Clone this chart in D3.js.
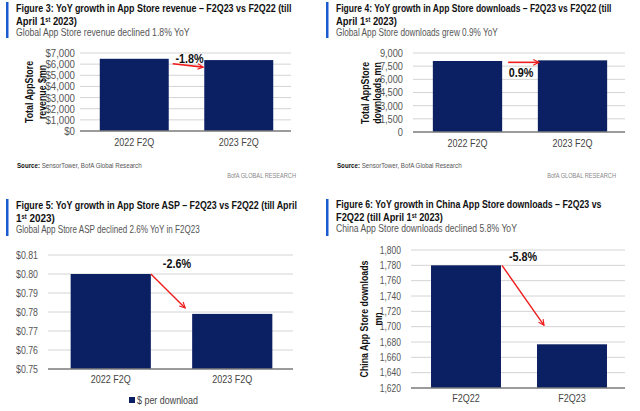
<!DOCTYPE html>
<html><head><meta charset="utf-8">
<script src="https://cdn.jsdelivr.net/npm/d3@7/dist/d3.min.js"></script>
<style>
body{margin:0;background:#fff;}
svg{display:block;}
text{font-family:"Liberation Sans",Arial,sans-serif;}
</style></head>
<body>
<script>
// ---- data ----
const revCategories = ["2022 F2Q", "2023 F2Q"];
const revValues = [6480, 6364];
const revTicks = [0, 1000, 2000, 3000, 4000, 5000, 6000, 7000];

const dlCategories = ["2022 F2Q", "2023 F2Q"];
const dlValues = [8090, 8163];
const dlTicks = [0, 1500, 3000, 4500, 6000, 7500, 9000];

const aspCategories = ["2022 F2Q", "2023 F2Q"];
const aspValues = [0.800, 0.779];
const aspTicks = [0.75, 0.76, 0.77, 0.78, 0.79, 0.80, 0.81];

const cnCategories = ["F2Q22", "F2Q23"];
const cnValues = [1780, 1677];
const cnTicks = [1620, 1640, 1660, 1680, 1700, 1720, 1740, 1760, 1780, 1800];

const changeLabels = ["-1.8%", "0.9%", "-2.6%", "-5.8%"];
const legendLabel = "$ per download";

const NAVY = "#0b1f63", ACCENT = "#1a5cd0", RED = "#ee1c1c";

const svg = d3.select("body").append("svg").attr("width", 640).attr("height", 411);
const defs = svg.append("defs");
defs.append("marker").attr("id", "ah").attr("viewBox", "0 0 10 10")
  .attr("refX", 9).attr("refY", 5).attr("markerWidth", 7).attr("markerHeight", 7)
  .attr("orient", "auto").attr("markerUnits", "userSpaceOnUse")
  .append("path").attr("d", "M1,1 L9,5 L1,9").attr("fill", "none")
  .attr("stroke", RED).attr("stroke-width", 1.6);

// horizontally squeeze a text element by factor f (or to a target width) using a transform
function squeeze(sel, f, target) {
  sel.each(function () {
    const el = d3.select(this);
    const k = target ? target / this.getComputedTextLength() : f;
    const x0 = +(el.attr("x") || 0);
    const tr = el.attr("transform") || "";
    el.attr("x", x0 / k).attr("transform", (tr + ` scale(${k},1)`).trim());
  });
}

const panels = [
  {ox: 0, accent: [2, 38], lines: [[["Figure 3: YoY growth in App Store revenue – F2Q23 vs F2Q22 (till", 0]], [["April 1", 0], ["st", 1], [" 2023)", 0]]],
   tl: [276, 61], ty: 12, sub: "Global App Store revenue declined 1.8% YoY", subW: 174,
   cats: revCategories, vals: revValues, ticks: revTicks, fmt: d => "$" + d3.format(",")(d),
   xr: [82, 291], yr: [131, 53], tickGap: 5, tickFs: 11, tickC: 0.88, catY: 147,
   ytitle: ["Total AppStore", "revenue $mn"], ytx: [33, 46], yty: 92,
   source: true, srcY: 168, ann: 0},
  {ox: 320, accent: [2, 38], lines: [[["Figure 4: YoY growth in App Store downloads – F2Q23 vs F2Q22 (till", 0]], [["April 1", 0], ["st", 1], [" 2023)", 0]]],
   tl: [276, 61], ty: 12, sub: "Global App Store downloads grew 0.9% YoY", subW: 162,
   cats: dlCategories, vals: dlValues, ticks: dlTicks, fmt: d3.format(","),
   xr: [415, 625], yr: [132, 53], tickGap: 10, tickFs: 10.5, tickC: 0.88, catY: 148,
   ytitle: ["Total AppStore", "downloads mn"], ytx: [369, 381], yty: 93,
   source: true, srcY: 168, ann: 1},
  {ox: 0, accent: [199, 236], lines: [[["Figure 5: YoY growth in App Store ASP – F2Q23 vs F2Q22 (till April", 0]], [["1", 0], ["st", 1], [" 2023)", 0]]],
   tl: [281, 39], ty: 209, sub: "Global App Store ASP declined 2.6% YoY in F2Q23", subW: 184,
   cats: aspCategories, vals: aspValues, ticks: aspTicks, fmt: d => "$" + d3.format(".2f")(d),
   xr: [50, 293], yr: [369, 255], tickGap: 10, tickFs: 10, tickC: 0.88, catY: 384, ytitle: null,
   source: false, ann: 2, legend: true},
  {ox: 320, accent: [199, 236], lines: [[["Figure 6: YoY growth in China App Store downloads – F2Q23 vs", 0]], [["F2Q22 (till April 1", 0], ["st", 1], [" 2023)", 0]]],
   tl: [266, 107], ty: 208, sub: "China App Store downloads declined 5.8% YoY", subW: 181,
   cats: cnCategories, vals: cnValues, ticks: cnTicks, fmt: d3.format(","),
   xr: [413, 625], yr: [388, 250], tickGap: 10, tickFs: 10, tickC: 0.85, catY: 403,
   ytitle: ["China App Store downloads", "mn"], ytx: [368, 382], yty: 319,
   source: false, ann: 3}
];

panels.forEach(p => {
  const g = svg.append("g");
  const tx = p.ox + 16;
  // accent bar
  g.append("rect").attr("x", p.ox + 6).attr("y", p.accent[0]).attr("width", 2.5)
    .attr("height", p.accent[1] - p.accent[0]).attr("fill", ACCENT);
  // titles
  p.lines.forEach((line, i) => {
    const t = g.append("text").attr("x", tx).attr("y", p.ty + i * 13)
      .attr("font-size", 11).attr("font-weight", "bold").attr("fill", "#111");
    line.forEach(([s, sup]) => {
      const ts = t.append("tspan").text(s);
      if (sup) ts.attr("font-size", 6.5).attr("baseline-shift", "super");
    });
    squeeze(t, null, p.tl[i]);
  });
  const st = g.append("text").attr("x", tx).attr("y", p.ty + 24).attr("font-size", 10.5)
    .attr("fill", "#555").text(p.sub);
  squeeze(st, null, p.subW);

  // scales
  const x = d3.scaleBand().domain(p.cats).range(p.xr).paddingInner(0.34).paddingOuter(0.17);
  const y = d3.scaleLinear().domain(d3.extent(p.ticks)).range(p.yr);

  // grid
  g.selectAll(".grid").data(p.ticks.slice(1)).join("line")
    .attr("x1", p.xr[0] - 2).attr("x2", p.xr[1]).attr("y1", d => y(d)).attr("y2", d => y(d))
    .attr("stroke", "#d4d4d4").attr("stroke-width", 1);

  // y axis
  const ya = g.append("g").attr("transform", `translate(${p.xr[0] - 2},0)`)
    .call(d3.axisLeft(y).tickValues(p.ticks).tickFormat(p.fmt).tickSize(0).tickPadding(p.tickGap));
  ya.select(".domain").remove();
  ya.selectAll("text").attr("font-size", p.tickFs).attr("fill", "#555")
    .style("font-family", '"Liberation Sans",Arial,sans-serif');
  squeeze(ya.selectAll("text"), p.tickC);

  // bars
  g.selectAll(".bar").data(p.vals).join("rect")
    .attr("x", (d, i) => x(p.cats[i])).attr("width", x.bandwidth())
    .attr("y", d => y(d)).attr("height", d => p.yr[0] - y(d)).attr("fill", NAVY);

  // baseline
  g.append("line").attr("x1", p.xr[0] - 2).attr("x2", p.xr[1])
    .attr("y1", p.yr[0]).attr("y2", p.yr[0]).attr("stroke", "#7a7a7a").attr("stroke-width", 1.5);

  // x labels
  const xa = g.append("g").attr("transform", `translate(0,${p.yr[0]})`)
    .call(d3.axisBottom(x).tickSize(0).tickPadding(p.catY - p.yr[0] - 8));
  xa.select(".domain").remove();
  xa.selectAll("text").attr("font-size", 10.5).attr("fill", "#444")
    .style("font-family", '"Liberation Sans",Arial,sans-serif');
  squeeze(xa.selectAll("text"), 0.86);

  // y title
  if (p.ytitle) {
    p.ytitle.forEach((s, i) => {
      const t = g.append("text").attr("transform", `translate(${p.ytx[i]},${p.yty}) rotate(-90)`)
        .attr("text-anchor", "middle").attr("font-size", 11).attr("font-weight", "bold")
        .attr("fill", "#111").text(s);
      squeeze(t, 0.8);
    });
  }

  // annotation
  const x1 = x(p.cats[0]) + x.bandwidth(), x2 = x(p.cats[1]);
  const y1 = y(p.vals[0]), y2 = y(p.vals[1]);
  const lbl = changeLabels[p.ann];
  let lab;
  if (p.ann === 0) {
    g.append("line").attr("x1", x1 + 4).attr("y1", y1 + 5).attr("x2", x2 - 1).attr("y2", y2 + 7)
      .attr("stroke", RED).attr("stroke-width", 1.6).attr("marker-end", "url(#ah)");
    lab = g.append("text").attr("x", (x1 + x2) / 2 + 3).attr("y", y1 + 4).attr("text-anchor", "middle");
  } else if (p.ann === 1) {
    g.append("line").attr("x1", x1 + 6).attr("y1", y2 + 2).attr("x2", x2 + 1).attr("y2", y2 + 2)
      .attr("stroke", RED).attr("stroke-width", 1.6).attr("marker-end", "url(#ah)");
    lab = g.append("text").attr("x", (x1 + x2) / 2 + 1).attr("y", y2 + 17).attr("text-anchor", "middle");
  } else if (p.ann === 2) {
    g.append("line").attr("x1", x1).attr("y1", y1).attr("x2", x2 - 7).attr("y2", y2 - 6)
      .attr("stroke", RED).attr("stroke-width", 1.4).attr("marker-end", "url(#ah)");
    lab = g.append("text").attr("x", x1 + 12).attr("y", y1 - 6).attr("text-anchor", "start");
  } else {
    g.append("line").attr("x1", x1 + 1).attr("y1", y1).attr("x2", x2 + 7).attr("y2", y2 - 19)
      .attr("stroke", RED).attr("stroke-width", 1.4).attr("marker-end", "url(#ah)");
    lab = g.append("text").attr("x", x1 + 8).attr("y", y1 - 4).attr("text-anchor", "start");
  }
  lab.attr("font-size", 12).attr("font-weight", "bold").attr("fill", "#111").text(lbl);
  squeeze(lab, 0.9);

  // source
  if (p.source) {
    const s = g.append("text").attr("x", tx + 1).attr("y", p.srcY).attr("font-size", 7.5).attr("fill", "#555");
    s.append("tspan").attr("font-weight", "bold").attr("fill", "#111").text("Source:");
    s.append("tspan").text("  SensorTower,  BofA Global Research");
    squeeze(s, null, 125);
    const b = g.append("text").attr("x", p.ox + 296).attr("y", p.srcY + 10).attr("text-anchor", "end")
      .attr("font-size", 7.5).attr("fill", "#888").text("BofA GLOBAL RESEARCH");
    squeeze(b, null, 69);
  }
  if (p.legend) {
    g.append("rect").attr("x", 129).attr("y", 397).attr("width", 6).attr("height", 6).attr("fill", NAVY);
    const lt = g.append("text").attr("x", 137).attr("y", 404).attr("font-size", 10.5).attr("fill", "#444").text(legendLabel);
    squeeze(lt, 0.85);
  }
});
</script>
</body></html>
